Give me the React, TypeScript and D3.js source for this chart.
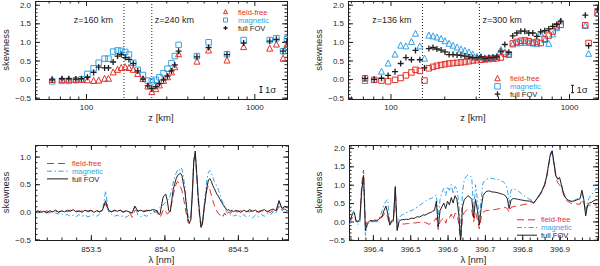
import * as d3 from "d3";
import { useEffect, useRef } from "react";

// upper left: skewness vs height z, symbols per height
const zLeft = [63, 72, 79, 87, 94, 102, 111, 119, 129, 136, 145, 154, 162, 171, 180, 191, 203, 218, 233, 246, 260, 273, 289, 305, 322, 337, 355, 456, 535, 688, 864, 1234, 1352, 1481, 1560];
const fieldFreeLeft = [-0.02, -0.02, -0.02, -0.02, -0.02, -0.03, -0.05, -0.04, 0.01, 0.01, 0.18, 0.25, 0.3, 0.32, 0.3, 0.25, 0.14, 0.0, -0.2, -0.35, -0.27, -0.17, -0.05, 0.05, 0.18, 0.32, 0.67, 0.47, 0.77, 0.5, 0.86, 0.82, 0.93, 0.55, 0.92];
const magneticLeft = [-0.06, -0.05, -0.05, -0.03, -0.01, 0.14, 0.29, 0.44, 0.55, 0.55, 0.74, 0.77, 0.76, 0.73, 0.66, 0.44, 0.25, 0.11, -0.04, -0.06, -0.02, 0.05, 0.16, 0.28, 0.43, 0.62, 0.92, 0.62, 0.99, 0.67, 1.05, 1.05, 1.1, 0.75, 1.07];
const fullFovLeft = [-0.02, 0.01, 0.01, 0.0, 0.01, 0.05, 0.18, 0.32, 0.3, 0.3, 0.46, 0.62, 0.66, 0.58, 0.53, 0.42, 0.22, 0.0, -0.18, -0.25, -0.2, -0.12, -0.02, 0.08, 0.22, 0.38, 0.75, 0.6, 0.85, 0.66, 0.97, 1.02, 1.07, 0.75, 1.0];
const marksLeft = [168, 246];
const markLabelsLeft = ["z=160 km", "z=240 km"];

// upper right
const zRight = [72, 81, 89, 97, 106, 114, 122, 131, 138, 146, 155, 164, 173, 182, 192, 202, 213, 224, 236, 248, 261, 275, 289, 305, 321, 338, 356, 375, 394, 415, 437, 460, 484, 510, 537, 565, 595, 627, 660, 694, 731, 770, 810, 853, 898, 1233, 1287, 1445];
const fieldFreeRight = [0.02, -0.02, -0.04, -0.06, -0.02, 0.03, 0.1, 0.18, 0.25, 0.22, -0.04, 0.29, 0.33, 0.36, 0.38, 0.4, 0.42, 0.43, 0.44, 0.45, 0.46, 0.48, 0.5, 0.51, 0.52, 0.53, 0.54, 0.55, 0.56, 0.58, 0.68, 0.66, 0.96, 1.0, 1.03, 1.04, 1.02, 0.98, 1.0, 0.97, 1.08, 1.17, 1.28, 1.42, 1.46, 1.45, 0.97, 1.78];
const magneticRight = [-0.05, -0.02, 0.2, 0.42, 0.66, 0.9, 0.88, 1.0, 1.22, 0.88, 0.55, 1.17, 1.15, 1.12, 1.08, 1.02, 0.95, 0.9, 0.85, 0.8, 0.76, 0.72, 0.66, 0.6, 0.58, 0.56, 0.57, 0.58, 0.6, 0.78, 0.72, 0.66, 0.93, 0.96, 0.97, 0.98, 0.97, 0.96, 0.94, 1.22, 1.05, 0.95, 1.2, 1.37, 1.55, 1.43, 0.68, 1.77];
const fullFovRight = [0.02, -0.01, 0.02, 0.1, 0.2, 0.42, 0.58, 0.52, 0.77, 0.52, 0.3, 0.82, 0.85, 0.81, 0.78, 0.73, 0.66, 0.66, 0.65, 0.64, 0.62, 0.6, 0.58, 0.57, 0.6, 0.55, 0.57, 0.58, 0.6, 0.75, 0.93, 0.72, 1.16, 1.24, 1.29, 1.29, 1.24, 1.24, 1.15, 1.27, 1.3, 1.35, 1.42, 1.47, 1.56, 1.72, 0.9, 1.88];
const marksRight = [151, 315];
const markLabelsRight = ["z=136 km", "z=300 km"];

// lower left: Ca II 854.2 nm
const lam854 = [
  853.12, 853.14, 853.16, 853.18, 853.2, 853.22, 853.24, 853.26, 853.28, 853.3,
  853.32, 853.34, 853.36, 853.38, 853.4, 853.42, 853.44, 853.46, 853.48, 853.5,
  853.52, 853.54, 853.56, 853.58, 853.6, 853.62, 853.64, 853.66, 853.68, 853.7,
  853.72, 853.74, 853.76, 853.78, 853.8, 853.82, 853.84, 853.86, 853.88, 853.9,
  853.92, 853.94,
  853.95, 853.96, 853.97, 853.98, 853.99, 854.0, 854.01, 854.02, 854.03, 854.04,
  854.05, 854.06, 854.07, 854.08, 854.09, 854.1, 854.11, 854.12, 854.13, 854.14,
  854.15, 854.16, 854.17, 854.18, 854.19, 854.2, 854.21, 854.22, 854.23, 854.24,
  854.25, 854.26, 854.27, 854.28, 854.29, 854.3, 854.31, 854.32, 854.33, 854.34,
  854.35, 854.36, 854.37, 854.38, 854.39, 854.4, 854.41, 854.42, 854.43, 854.44,
  854.45, 854.46, 854.47, 854.48,
  854.5, 854.52, 854.54, 854.56, 854.58, 854.6, 854.62, 854.64, 854.66, 854.68,
  854.7, 854.72, 854.74, 854.76, 854.78, 854.8, 854.82, 854.84,
];
const fieldFree854 = [
  0.01, -0.01, 0.02, 0.0, 0.02, -0.01, 0.01, 0.02, 0.0, 0.01,
  0.02, 0.0, 0.03, 0.01, 0.02, 0.0, 0.02, 0.03, 0.0, 0.02,
  0.01, 0.02, 0.0, 0.03, 0.15, 0.02, 0.0, 0.02, 0.01, 0.03,
  0.0, 0.02, 0.01, -0.1, 0.03, 0.02, 0.0, 0.02, 0.01, 0.03,
  0.02, 0.0,
  0.0, -0.06, -0.1, -0.05, 0.02, 0.05, 0.0, -0.04, -0.02, 0.05,
  0.15, 0.3, 0.42, 0.5, 0.55, 0.52, 0.45, 0.38, 0.25, 0.1,
  -0.05, -0.18, -0.22, -0.12, 0.35, 0.95, 1.05, 0.65, 0.2, -0.1,
  -0.3, -0.18, 0.05, 0.25, 0.42, 0.47, 0.4, 0.3, 0.2, 0.12,
  0.05, 0.0, -0.04, -0.06, -0.03, -0.08, -0.02, -0.07, -0.04, 0.0,
  -0.03, 0.01, -0.02, 0.0,
  0.0, 0.02, -0.01, 0.01, 0.0, 0.02, -0.01, 0.01, 0.02, 0.0,
  0.01, -0.01, 0.02, 0.0, 0.1, 0.03, 0.05, 0.02,
];
const magnetic854 = [
  0.02, -0.02, 0.01, -0.02, 0.0, -0.03, 0.01, -0.02, -0.04, -0.03,
  -0.06, -0.05, -0.08, -0.06, -0.09, -0.05, -0.08, -0.06, -0.09, -0.07,
  -0.05, -0.08, -0.04, 0.02, 0.38, 0.0, -0.05, -0.08, -0.06, -0.09,
  -0.07, -0.1, -0.06, -0.04, 0.12, -0.06, -0.09, -0.06, -0.08, -0.04,
  -0.02, 0.0,
  0.0, 0.05, 0.08, 0.1, 0.12, 0.15, 0.18, 0.2, 0.24, 0.3,
  0.4, 0.52, 0.62, 0.7, 0.76, 0.74, 0.8, 0.78, 0.62, 0.45,
  0.15, -0.05, -0.12, -0.08, 0.35, 0.92, 1.05, 0.68, 0.3, 0.0,
  -0.25, -0.15, 0.1, 0.35, 0.6, 0.72, 0.75, 0.7, 0.62, 0.55,
  0.5, 0.45, 0.38, 0.3, 0.22, 0.15, 0.08, 0.02, -0.03, -0.02,
  -0.06, -0.05, -0.08, -0.06,
  -0.06, -0.09, -0.05, -0.1, -0.07, -0.11, -0.06, -0.09, -0.05, -0.08,
  -0.03, -0.06, 0.0, -0.02, 0.22, 0.0, 0.12, -0.04,
];
const fullFov854 = [
  0.0, 0.02, -0.01, 0.01, -0.02, 0.02, 0.0, 0.03, -0.01, 0.02,
  0.0, 0.03, 0.01, 0.04, 0.0, 0.02, -0.01, 0.03, 0.01, 0.03,
  -0.01, 0.02, 0.0, 0.04, 0.2, 0.03, 0.0, 0.03, 0.01, 0.03,
  -0.01, 0.02, 0.0, -0.02, 0.1, 0.01, 0.03, 0.0, 0.03, 0.02,
  0.04, 0.03,
  0.02, -0.03, -0.05, 0.1, 0.25, 0.3, 0.32, 0.2, 0.02, 0.0,
  0.2, 0.4, 0.5, 0.6, 0.66, 0.68, 0.7, 0.65, 0.5, 0.36,
  0.1, -0.12, -0.2, -0.15, 0.3, 0.9, 1.1, 0.7, 0.28, -0.05,
  -0.28, -0.2, 0.05, 0.25, 0.45, 0.58, 0.6, 0.55, 0.47, 0.42,
  0.36, 0.31, 0.27, 0.22, 0.17, 0.13, 0.09, 0.05, 0.03, 0.04,
  0.01, 0.03, 0.0, 0.02,
  0.02, -0.01, 0.03, 0.0, 0.04, 0.01, 0.03, -0.01, 0.02, 0.04,
  0.0, 0.03, 0.05, 0.02, 0.2, 0.06, 0.1, 0.07,
];

// lower right: Ca II H
const lam397 = [
  396.335, 396.34, 396.345, 396.35, 396.355, 396.36, 396.365, 396.37, 396.375, 396.38,
  396.385, 396.39, 396.395, 396.4, 396.405, 396.41, 396.415, 396.42, 396.425, 396.43,
  396.435, 396.44, 396.445, 396.45, 396.455, 396.46, 396.465, 396.47, 396.475, 396.48,
  396.485, 396.49, 396.495, 396.5, 396.505, 396.51, 396.515, 396.52, 396.525, 396.53,
  396.535, 396.54, 396.545, 396.55, 396.555, 396.56, 396.565, 396.57, 396.575, 396.58,
  396.585, 396.59, 396.595, 396.6, 396.605, 396.61, 396.615, 396.62, 396.625, 396.63,
  396.635, 396.64, 396.645, 396.65, 396.655, 396.66, 396.665, 396.67, 396.675, 396.68,
  396.685, 396.69, 396.695, 396.7, 396.705, 396.71, 396.715, 396.72, 396.725, 396.73,
  396.735, 396.74, 396.745, 396.75, 396.755, 396.76, 396.765, 396.77, 396.775, 396.78,
  396.785, 396.79, 396.795, 396.8, 396.805, 396.81, 396.815, 396.82, 396.825, 396.83,
  396.835, 396.84, 396.845, 396.85, 396.855, 396.86, 396.865, 396.87, 396.875, 396.88,
  396.885, 396.89, 396.895, 396.9, 396.905, 396.91, 396.915, 396.92, 396.925, 396.93,
  396.935, 396.94, 396.945, 396.95, 396.955, 396.96, 396.965, 396.97, 396.975, 396.98,
  396.985, 396.99, 396.995, 397.0,
];
const fieldFree397 = [
  0.05, 0.02, 0.1, 0.15, 0.0, -0.02, 0.05, 1.0, 1.4, -0.1,
  0.0, 0.02, 0.0, 0.02, 0.0, 0.03, 0.05, 0.08, 0.12, 0.2,
  0.25, 0.1, -0.1, -0.02, 0.0, 0.9, -0.2, -0.05, -0.06, -0.07,
  -0.07, -0.06, -0.06, -0.05, -0.05, -0.04, -0.04, -0.03, -0.03, -0.02,
  -0.02, -0.03, -0.05, -0.08, -0.05, 0.0, 0.02, 0.1, -0.22, 0.0,
  0.05, 0.1, -0.05, 0.12, 0.1, 0.2, 0.05, 0.22, 0.2, -0.05,
  -0.6, 0.15, 0.25, 0.3, 0.33, 0.32, 0.3, 0.0, 0.25, 0.05,
  -0.2, 0.1, 0.25, 0.28, 0.3, 0.3, 0.31, 0.32, 0.32, 0.33,
  0.34, 0.35, 0.36, 0.37, 0.38, 0.35, 0.25, 0.38, 0.4, 0.41,
  0.42, 0.43, 0.44, 0.45, 0.46, 0.47, 0.48, 0.5, 0.52, 0.5,
  0.55, 0.6, 0.68, 0.76, 0.86, 0.98, 1.18, 1.48, 1.78, 1.9,
  1.55, 1.2, 1.05, 1.0, 0.92, 0.75, 0.62, 0.56, 0.53, 0.5,
  0.49, 0.48, 0.48, 0.47, 0.47, 0.6, 0.5, 0.3, 0.42, 0.44,
  0.45, 0.44, 0.45, 0.45,
];
const magnetic397 = [
  -0.1, -0.05, 0.25, 0.3, -0.02, -0.08, -0.05, 0.8, 1.25, -0.38,
  -0.1, -0.02, 0.0, -0.03, 0.0, -0.02, 0.05, 0.15, 0.3, 0.45,
  0.55, 0.6, -0.05, 0.0, 0.05, 0.85, -0.2, 0.1, 0.15, 0.19,
  0.2, 0.24, 0.25, 0.29, 0.3, 0.34, 0.37, 0.39, 0.44, 0.47,
  0.51, 0.54, 0.59, 0.6, 0.63, 0.64, 0.68, 0.72, 0.1, 0.6,
  0.8, 0.9, 0.7, 0.95, 0.85, 1.0, 0.75, 0.95, 0.9, 0.5,
  -0.3, 0.8, 1.15, 1.22, 1.27, 1.25, 1.18, 0.25, 1.0, 0.6,
  0.1, 0.6, 1.05, 1.12, 1.15, 1.17, 1.18, 1.17, 1.16, 1.15,
  1.14, 1.12, 1.1, 1.07, 1.02, 0.9, 0.5, 0.85, 0.9, 0.88,
  0.85, 0.82, 0.78, 0.74, 0.7, 0.66, 0.63, 0.6, 0.58, 0.52,
  0.58, 0.64, 0.72, 0.8, 0.9, 1.02, 1.22, 1.52, 1.82, 1.95,
  1.62, 1.27, 1.15, 1.18, 0.98, 0.8, 0.66, 0.6, 0.57, 0.56,
  0.56, 0.58, 0.6, 0.63, 0.66, 0.75, 0.6, 0.2, 0.55, 0.65,
  0.72, 0.78, 0.85, 0.9,
];
const fullFov397 = [
  0.0, 0.05, 0.2, 0.25, 0.02, 0.0, 0.05, 0.85, 1.25, -0.25,
  -0.05, 0.0, 0.03, 0.0, 0.04, 0.02, 0.05, 0.1, 0.15, 0.3,
  0.42, 0.2, -0.1, 0.02, 0.05, 0.95, -0.25, 0.0, 0.04, 0.05,
  0.05, 0.06, 0.05, 0.08, 0.09, 0.08, 0.11, 0.13, 0.12, 0.15,
  0.18, 0.17, 0.2, 0.23, 0.24, 0.28, 0.3, 0.55, -0.15, 0.3,
  0.4, 0.5, 0.35, 0.55, 0.45, 0.65, 0.5, 0.7, 0.6, 0.2,
  -0.55, 0.4, 0.6, 0.65, 0.7, 0.66, 0.6, 0.1, 0.6, 0.3,
  -0.1, 0.35, 0.7, 0.78, 0.82, 0.83, 0.82, 0.8, 0.8, 0.79,
  0.78, 0.76, 0.75, 0.73, 0.7, 0.62, 0.35, 0.58, 0.62, 0.62,
  0.61, 0.6, 0.59, 0.58, 0.57, 0.56, 0.56, 0.55, 0.55, 0.5,
  0.56, 0.62, 0.7, 0.78, 0.88, 1.0, 1.2, 1.5, 1.8, 1.92,
  1.6, 1.25, 1.15, 1.2, 1.0, 0.8, 0.66, 0.6, 0.57, 0.55,
  0.55, 0.56, 0.58, 0.6, 0.62, 0.85, 0.6, 0.15, 0.45, 0.5,
  0.52, 0.55, 0.58, 0.6,
];

const seriesNames = ["field-free", "magnetic", "full FOV"];
const zTicks = [100, 1000];
const zMinorTicks = [50, 60, 70, 80, 90, 200, 300, 400, 500, 600, 700, 800, 900];
const skewTicksTop = [-0.5, 0, 0.5, 1, 1.5, 2];
const skewTicks854 = [-0.5, 0, 0.5, 1];
const lamTicks854 = [853.5, 854.0, 854.5];
const lamTicks397 = [396.4, 396.5, 396.6, 396.7, 396.8, 396.9];
const sigmaHalf = [0.08, 0.1];

const FONT = "'Liberation Sans', Arial, Helvetica, sans-serif";
const INK = "#1f1f1f";
const RED = "#e3302a";
const BLUE = "#36a2e6";
const LEGEND_SIZE = 7.6;

const triPath = (cx, cy, s) =>
  `M${cx},${cy - s * 0.58}L${cx + s / 2},${cy + s * 0.42}L${cx - s / 2},${cy + s * 0.42}Z`;
const sqPath = (cx, cy, s) => `M${cx - s / 2},${cy - s / 2}h${s}v${s}h${-s}Z`;
const plusPath = (cx, cy, s) => `M${cx - s / 2},${cy}h${s}M${cx},${cy - s / 2}v${s}`;

function frame(svg, box, x, y, opt) {
  const g = svg.append("g").attr("color", INK);
  const put = (axis, ty, tx = 0) => {
    const a = g.append("g").attr("transform", `translate(${tx},${ty})`).call(axis);
    a.select(".domain").remove();
    a.attr("font-family", FONT).attr("font-size", 8);
    a.selectAll("text").attr("fill", INK);
    return a;
  };
  const blank = () => "";
  put(d3.axisBottom(x).tickValues(opt.xMajor).tickSizeInner(-5).tickSizeOuter(0).tickPadding(opt.xPad).tickFormat(opt.xFmt), box.b);
  put(d3.axisBottom(x).tickValues(opt.xMinor).tickSizeInner(-2.5).tickSizeOuter(0).tickFormat(blank), box.b);
  put(d3.axisTop(x).tickValues(opt.xMajor).tickSizeInner(-5).tickSizeOuter(0).tickFormat(blank), box.t);
  put(d3.axisTop(x).tickValues(opt.xMinor).tickSizeInner(-2.5).tickSizeOuter(0).tickFormat(blank), box.t);
  put(d3.axisLeft(y).tickValues(opt.yMajor).tickSizeInner(-5).tickSizeOuter(0).tickPadding(4).tickFormat(d3.format(".1f")), 0, box.l);
  put(d3.axisLeft(y).tickValues(opt.yMinor).tickSizeInner(-2.5).tickSizeOuter(0).tickFormat(blank), 0, box.l);
  put(d3.axisRight(y).tickValues(opt.yMajor).tickSizeInner(-5).tickSizeOuter(0).tickFormat(blank), 0, box.r);
  put(d3.axisRight(y).tickValues(opt.yMinor).tickSizeInner(-2.5).tickSizeOuter(0).tickFormat(blank), 0, box.r);

  svg.append("rect")
    .attr("x", box.l + 0.5).attr("y", box.t + 0.5)
    .attr("width", box.r - box.l).attr("height", box.b - box.t)
    .attr("fill", "none").attr("stroke", INK).attr("stroke-width", 1);

  // axis titles
  svg.append("text")
    .attr("x", (box.l + box.r) / 2).attr("y", opt.titleY)
    .attr("text-anchor", "middle").attr("font-family", FONT).attr("font-size", 9.5).attr("fill", INK)
    .text(opt.xTitle);
  svg.append("text")
    .attr("transform", `translate(${opt.yTitleX},${(box.t + box.b) / 2}) rotate(-90)`)
    .attr("text-anchor", "middle").attr("font-family", FONT).attr("font-size", 9.5).attr("fill", INK)
    .text("skewness");
}

function minorRange(lo, hi, step) {
  return d3.range(Math.round(lo / step), Math.round(hi / step) + 1).map((k) => +(k * step).toFixed(4));
}

export default function App() {
  const ref = useRef(null);

  useEffect(() => {
    const svg = d3.select(ref.current);
    svg.selectAll("*").remove();

    const boxes = [
      { l: 35, r: 287, t: 1, b: 99 },
      { l: 348, r: 598, t: 1, b: 99 },
      { l: 35, r: 288, t: 145, b: 240 },
      { l: 349, r: 598, t: 145, b: 240 },
    ];
    const defs = svg.append("defs");
    boxes.forEach((b, i) => {
      defs.append("clipPath").attr("id", `clip${i}`).append("rect")
        .attr("x", b.l).attr("y", b.t).attr("width", b.r - b.l + 1).attr("height", b.b - b.t + 1);
    });

    // ---------- top panels ----------
    const tops = [
      { box: boxes[0], dom: [49.8, 1563], z: zLeft, ff: fieldFreeLeft, mag: magneticLeft, fov: fullFovLeft,
        ffShape: triPath, magShape: sqPath, marks: marksLeft, markLabels: markLabelsLeft,
        legX: 225.5, legY: [12, 20, 28], legS: 4, sig: sigmaHalf[0], sigX: 261, sigY: 89.5 },
      { box: boxes[1], dom: [57.8, 1453], z: zRight, ff: fieldFreeRight, mag: magneticRight, fov: fullFovRight,
        ffShape: sqPath, magShape: triPath, marks: marksRight, markLabels: markLabelsRight,
        legX: 497.5, legY: [78.5, 86.3, 94.1], legS: 5.5, sig: sigmaHalf[1], sigX: 572.5, sigY: 89 },
    ];

    tops.forEach((p, k) => {
      const b = p.box;
      const x = d3.scaleLog().domain(p.dom).range([b.l, b.r]);
      const y = d3.scaleLinear().domain([-0.535, 2.1]).range([b.b, b.t]);
      frame(svg, b, x, y, {
        xMajor: zTicks, xMinor: zMinorTicks.filter((v) => v > p.dom[0]), xFmt: d3.format("d"), xPad: 5,
        yMajor: skewTicksTop, yMinor: minorRange(-0.5, 2.1, 0.1),
        xTitle: "z [km]", titleY: 121, yTitleX: k === 0 ? 9 : 322,
      });

      const g = svg.append("g").attr("clip-path", `url(#clip${k})`);
      // height markers
      p.marks.forEach((m, i) => {
        g.append("line").attr("x1", x(m)).attr("x2", x(m)).attr("y1", b.t).attr("y2", b.b)
          .attr("stroke", INK).attr("stroke-width", 1).attr("stroke-dasharray", "1,2");
        svg.append("text")
          .attr("x", i === 0 ? x(m) - 11 : x(m) + 3).attr("y", 22.5)
          .attr("text-anchor", i === 0 ? "end" : "start")
          .attr("font-family", FONT).attr("font-size", 9).attr("fill", INK)
          .text(p.markLabels[i]);
      });

      g.selectAll(null).data(p.mag).join("path")
        .attr("d", (v, i) => p.magShape(x(p.z[i]), y(v), k === 0 ? 5.5 : 6))
        .attr("fill", "none").attr("stroke", BLUE).attr("stroke-width", 1);
      g.selectAll(null).data(p.ff).join("path")
        .attr("d", (v, i) => p.ffShape(x(p.z[i]), y(v), k === 0 ? 6 : 5.5))
        .attr("fill", "none").attr("stroke", RED).attr("stroke-width", 1);
      g.selectAll(null).data(p.fov).join("path")
        .attr("d", (v, i) => plusPath(x(p.z[i]), y(v), 6))
        .attr("fill", "none").attr("stroke", INK).attr("stroke-width", 1.3);

      // legend
      const cols = [RED, BLUE, INK];
      const shapes = [triPath, sqPath, plusPath];
      seriesNames.forEach((name, i) => {
        svg.append("path").attr("d", shapes[i](p.legX, p.legY[i], p.legS))
          .attr("fill", "none").attr("stroke", cols[i]).attr("stroke-width", i === 2 ? 1.3 : 1);
        svg.append("text").attr("x", p.legX + 12.5).attr("y", p.legY[i]).attr("dy", "0.35em")
          .attr("font-family", FONT).attr("font-size", LEGEND_SIZE).attr("fill", cols[i]).text(name);
      });

      // 1 sigma bar
      const half = y(0) - y(p.sig);
      svg.append("path")
        .attr("d", `M${p.sigX - 1.5},${p.sigY - half}h3M${p.sigX},${p.sigY - half}V${p.sigY + half}M${p.sigX - 1.5},${p.sigY + half}h3`)
        .attr("fill", "none").attr("stroke", INK).attr("stroke-width", 1);
      svg.append("text").attr("x", p.sigX + 4).attr("y", p.sigY + 3.5)
        .attr("font-family", FONT).attr("font-size", 9.5).attr("fill", INK).text("1σ");
    });

    // ---------- bottom panels ----------
    const bots = [
      { box: boxes[2], xd: [853.12, 854.841], yd: [-0.51, 1.21], lam: lam854, ff: fieldFree854, mag: magnetic854, fov: fullFov854,
        xMajor: lamTicks854, xMinor: minorRange(853.2, 854.8, 0.1), yMajor: skewTicks854, yMinor: minorRange(-0.5, 1.2, 0.1),
        legX: 47, legLen: 21, legY: [163.5, 171.2, 178.9] },
      { box: boxes[3], xd: [396.336, 397.003], yd: [-0.505, 2.08], lam: lam397, ff: fieldFree397, mag: magnetic397, fov: fullFov397,
        xMajor: lamTicks397, xMinor: minorRange(396.34, 397.0, 0.02), yMajor: skewTicksTop, yMinor: minorRange(-0.5, 2.0, 0.1),
        legX: 517, legLen: 20, legY: [219.8, 227.5, 235.2] },
    ];

    bots.forEach((p, k) => {
      const b = p.box;
      const x = d3.scaleLinear().domain(p.xd).range([b.l, b.r]);
      const y = d3.scaleLinear().domain(p.yd).range([b.b, b.t]);
      frame(svg, b, x, y, {
        xMajor: p.xMajor, xMinor: p.xMinor, xFmt: d3.format(".1f"), xPad: 6,
        yMajor: p.yMajor, yMinor: p.yMinor,
        xTitle: "λ [nm]", titleY: 263, yTitleX: k === 0 ? 9 : 322,
      });

      const g = svg.append("g").attr("clip-path", `url(#clip${k + 2})`);
      const line = d3.line().x((_, i) => x(p.lam[i])).y((v) => y(v));
      g.append("path").attr("d", line(p.ff)).attr("fill", "none").attr("stroke", RED)
        .attr("stroke-width", 1).attr("stroke-dasharray", "7,4");
      g.append("path").attr("d", line(p.mag)).attr("fill", "none").attr("stroke", BLUE)
        .attr("stroke-width", 1).attr("stroke-dasharray", "5,2.5,1.5,2.5");
      g.append("path").attr("d", line(p.fov)).attr("fill", "none").attr("stroke", INK)
        .attr("stroke-width", 1);

      const cols = [RED, BLUE, INK];
      const dashes = ["7,4", "5,2.5,1.5,2.5", null];
      seriesNames.forEach((name, i) => {
        svg.append("line").attr("x1", p.legX).attr("x2", p.legX + p.legLen)
          .attr("y1", p.legY[i]).attr("y2", p.legY[i])
          .attr("stroke", cols[i]).attr("stroke-width", 1).attr("stroke-dasharray", dashes[i]);
        svg.append("text").attr("x", p.legX + p.legLen + 4).attr("y", p.legY[i]).attr("dy", "0.35em")
          .attr("font-family", FONT).attr("font-size", LEGEND_SIZE).attr("fill", cols[i]).text(name);
      });
    });
  }, []);

  return (
    <svg
      ref={ref}
      width={600}
      height={266}
      style={{ position: "absolute", left: 0, top: 0, background: "#fff" }}
    />
  );
}
